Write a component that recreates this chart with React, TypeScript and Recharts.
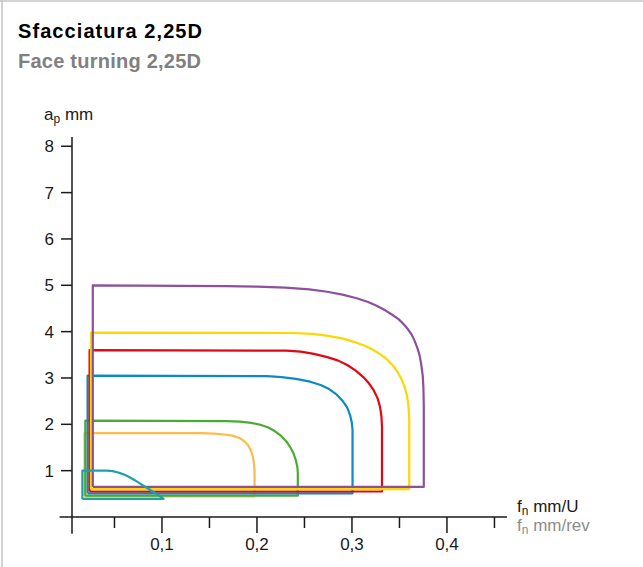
import React from 'react';
import { LineChart, Line, XAxis, YAxis, ReferenceLine } from 'recharts';

// feed f_n (mm/rev) vs depth of cut a_p (mm), one closed outline per insert
const purple = [[0.0272, 0.65], [0.0272, 5.0], [0.168, 4.98], [0.2, 4.97], [0.23, 4.95], [0.255, 4.91], [0.274, 4.86], [0.29, 4.8], [0.305, 4.72], [0.317, 4.64], [0.326, 4.56], [0.335, 4.46], [0.342, 4.37], [0.349, 4.27], [0.354, 4.17], [0.359, 4.05], [0.363, 3.93], [0.366, 3.8], [0.369, 3.64], [0.3715, 3.46], [0.373, 3.28], [0.3745, 3.05], [0.3752, 2.8], [0.3756, 2.4], [0.3756, 0.65], [0.0272, 0.65]];
const yellow = [[0.0253, 0.6], [0.0253, 3.98], [0.2386, 3.97], [0.258, 3.95], [0.275, 3.91], [0.291, 3.85], [0.302, 3.78], [0.313, 3.7], [0.322, 3.61], [0.33, 3.51], [0.337, 3.4], [0.343, 3.27], [0.348, 3.13], [0.352, 2.98], [0.355, 2.83], [0.3575, 2.66], [0.359, 2.48], [0.3598, 2.3], [0.3603, 2.1], [0.3603, 0.6], [0.0253, 0.6]];
const red = [[0.0238, 0.55], [0.0238, 3.6], [0.231, 3.59], [0.246, 3.57], [0.26, 3.52], [0.274, 3.45], [0.285, 3.38], [0.295, 3.28], [0.304, 3.16], [0.312, 3.02], [0.318, 2.88], [0.323, 2.73], [0.327, 2.56], [0.3295, 2.38], [0.331, 2.18], [0.3316, 1.95], [0.3316, 0.55], [0.0238, 0.55]];
const blue = [[0.0217, 0.51], [0.0217, 3.05], [0.2105, 3.04], [0.226, 3.02], [0.241, 2.98], [0.256, 2.92], [0.267, 2.85], [0.276, 2.76], [0.284, 2.64], [0.29, 2.51], [0.295, 2.36], [0.298, 2.2], [0.2998, 2.04], [0.3006, 1.88], [0.3006, 0.51], [0.0217, 0.51]];
const green = [[0.0193, 0.46], [0.0193, 2.08], [0.168, 2.07], [0.182, 2.06], [0.194, 2.03], [0.2035, 1.99], [0.212, 1.93], [0.219, 1.85], [0.2255, 1.75], [0.231, 1.63], [0.235, 1.51], [0.2385, 1.37], [0.241, 1.22], [0.2425, 1.08], [0.243, 0.95], [0.243, 0.46], [0.0193, 0.46]];
const orange = [[0.0185, 0.445], [0.0185, 1.81], [0.14, 1.81], [0.155, 1.8], [0.166, 1.78], [0.175, 1.75], [0.182, 1.7], [0.187, 1.63], [0.191, 1.54], [0.1935, 1.44], [0.1955, 1.32], [0.1967, 1.18], [0.1973, 1.04], [0.1975, 0.9], [0.1975, 0.445], [0.0185, 0.445]];
const teal = [[0.0162, 0.39], [0.0162, 1.0], [0.042, 1.0], [0.048, 0.99], [0.054, 0.96], [0.0596, 0.92], [0.065, 0.87], [0.071, 0.8], [0.077, 0.72], [0.084, 0.63], [0.091, 0.54], [0.097, 0.46], [0.1017, 0.39], [0.0162, 0.39]];

const xTicks = [0.05, 0.1, 0.15, 0.2, 0.25, 0.3, 0.35, 0.4, 0.45];
const xTickLabels = ['', '0,1', '', '0,2', '', '0,3', '', '0,4', ''];
const yTicks = [1, 2, 3, 4, 5, 6, 7, 8];

const series = [
  { name: 'orange', pts: orange, color: '#fbbb4e' },
  { name: 'green', pts: green, color: '#4aab34' },
  { name: 'blue', pts: blue, color: '#0a8ac6' },
  { name: 'red', pts: red, color: '#e30613' },
  { name: 'yellow', pts: yellow, color: '#fdd700' },
  { name: 'purple', pts: purple, color: '#8e4f9c' },
  { name: 'teal', pts: teal, color: '#1aa3a9' },
];

const FONT = '"Liberation Sans", Arial, sans-serif';
const AXIS = '#1a1a1a';

const XTick = (props: any) => {
  const { x, y, index } = props;
  const label = xTickLabels[index];
  const major = label !== '';
  return (
    <g>
      <line x1={x} x2={x} y1={y} y2={y + (major ? 16 : 11)} stroke={AXIS} strokeWidth={1.5} />
      {major && (
        <text x={x} y={y + 33} textAnchor="middle" fontSize={17} fill={AXIS} fontFamily={FONT}>
          {label}
        </text>
      )}
    </g>
  );
};

const App = () => {
  return (
    <div style={{ position: 'absolute', left: 0, top: 0, width: 643, height: 567, background: '#fff', fontFamily: FONT }}>
      <LineChart width={643} height={567} margin={{ top: 137, right: 136, bottom: 20, left: 32 }}>
        <XAxis
          dataKey="x"
          type="number"
          domain={[0.0053, 0.4632]}
          allowDataOverflow
          ticks={xTicks}
          axisLine={false}
          tickLine={false}
          tickSize={0}
          tickMargin={0}
          tick={<XTick />}
          height={30}
          interval={0}
        />
        <YAxis
          dataKey="y"
          type="number"
          domain={[0, 8.2]}
          allowDataOverflow
          ticks={yTicks}
          axisLine={false}
          tickSize={11}
          tickMargin={7}
          tickLine={{ stroke: AXIS, strokeWidth: 1.5 }}
          tick={{ fill: AXIS, fontSize: 17, fontFamily: FONT }}
          width={40}
          interval={0}
        />
        <ReferenceLine
          segment={[{ x: -0.0078, y: 0 }, { x: 0.4632, y: 0 }]}
          ifOverflow="visible"
          stroke={AXIS}
          strokeWidth={1.5}
        />
        <ReferenceLine
          segment={[{ x: 0.0053, y: -0.36 }, { x: 0.0053, y: 8.2 }]}
          ifOverflow="visible"
          stroke={AXIS}
          strokeWidth={1.5}
        />
        {series.map((s) => (
          <Line
            key={s.name}
            data={s.pts.map(([x, y]) => ({ x, y }))}
            dataKey="y"
            type="linear"
            stroke={s.color}
            strokeWidth={2.2}
            strokeLinejoin="round"
            dot={false}
            activeDot={false}
            isAnimationActive={false}
          />
        ))}
      </LineChart>
      <svg width={643} height={567} style={{ position: 'absolute', left: 0, top: 0, pointerEvents: 'none' }}>
        <line x1={0} x2={643} y1={1} y2={1} stroke="#c4c4c4" strokeWidth={1.5} />
        <line x1={2} x2={2} y1={0} y2={567} stroke="#c4c4c4" strokeWidth={1.5} />
        <text x={18} y={37.7} fontSize={20} fontWeight="bold" fill="#000" fontFamily={FONT} textLength={184} lengthAdjust="spacing">
          Sfacciatura 2,25D
        </text>
        <text x={18} y={67.7} fontSize={20} fontWeight="bold" fill="#808080" fontFamily={FONT} textLength={183} lengthAdjust="spacing">
          Face turning 2,25D
        </text>
        <text x={44} y={120} fontSize={17} fill={AXIS} fontFamily={FONT}>
          a<tspan fontSize={12} dy={3}>p</tspan><tspan dy={-3}> mm</tspan>
        </text>
        <text x={517} y={511.7} fontSize={17} fill={AXIS} fontFamily={FONT}>
          f<tspan fontSize={12} dy={3}>n</tspan><tspan dy={-3}> mm/U</tspan>
        </text>
        <text x={517} y={530.5} fontSize={17} fill="#8c8c8c" fontFamily={FONT}>
          f<tspan fontSize={12} dy={3}>n</tspan><tspan dy={-3}> mm/rev</tspan>
        </text>
      </svg>
    </div>
  );
};

export default App;
